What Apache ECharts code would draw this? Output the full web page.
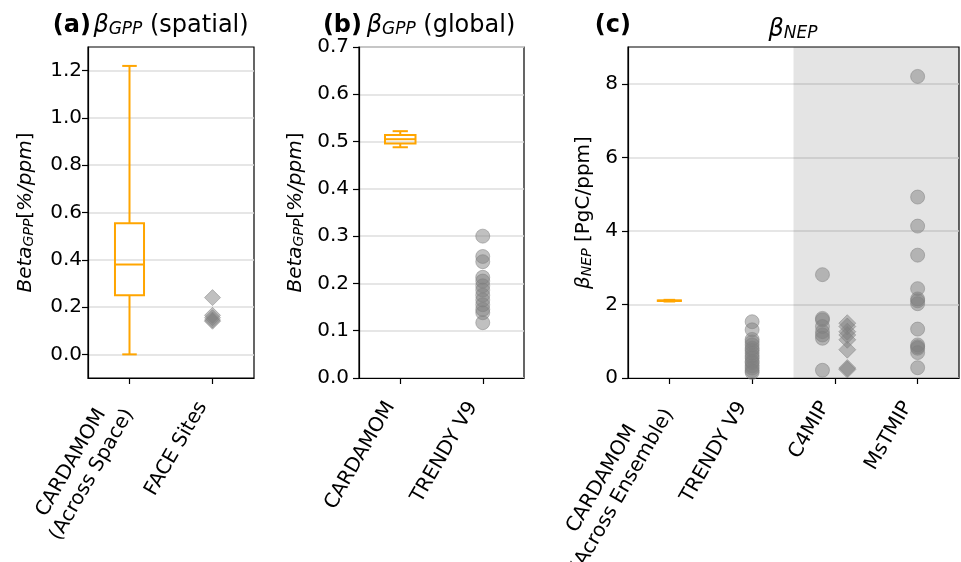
<!DOCTYPE html>
<html>
<head>
<meta charset="utf-8">
<script src="https://cdn.jsdelivr.net/npm/echarts@6/dist/echarts.min.js"></script>
<style>html,body{margin:0;padding:0;background:#fff}#c{width:961px;height:562px}</style>
</head>
<body>
<div id="c"></div>
<script>
// ---------- data ----------
const panelA_cats = ['CARDAMOM\n(Across Space)', 'FACE Sites'];
const panelA_yTicks = [0.0, 0.2, 0.4, 0.6, 0.8, 1.0, 1.2];
const cardamomSpatialBox = [0.0, 0.25, 0.38, 0.555, 1.22]; // low whisker, q1, median, q3, high whisker
const faceSites = [0.24, 0.165, 0.155, 0.145, 0.14];

const panelB_cats = ['CARDAMOM', 'TRENDY V9'];
const panelB_yTicks = [0.0, 0.1, 0.2, 0.3, 0.4, 0.5, 0.6, 0.7];
const cardamomGlobalBox = [0.488, 0.496, 0.505, 0.514, 0.522];
const trendyGPP = [0.30, 0.257, 0.246, 0.213, 0.205, 0.195, 0.186, 0.175, 0.165, 0.155, 0.145, 0.138, 0.117];

const panelC_cats = ['CARDAMOM\n(Across Ensemble)', 'TRENDY V9', 'C4MIP', 'MsTMIP'];
const panelC_yTicks = [0, 2, 4, 6, 8];
const cardamomNEPBox = [2.08, 2.095, 2.1, 2.11, 2.125];
const trendyNEP = [1.53, 1.31, 1.05, 0.98, 0.9, 0.81, 0.75, 0.68, 0.6, 0.54, 0.45, 0.41, 0.33, 0.27, 0.2, 0.15];
const c4mipCircles = [2.81, 1.62, 1.58, 1.40, 1.26, 1.17, 1.08, 0.21];
const c4mipDiamonds = [1.49, 1.40, 1.26, 1.17, 1.04, 0.77, 0.27, 0.23];
const mstmip = [8.2, 4.92, 4.13, 3.34, 2.43, 2.15, 2.1, 2.02, 1.33, 0.9, 0.85, 0.81, 0.69, 0.28];

// ---------- styling helpers ----------
const FONT = '"DejaVu Sans", sans-serif';
const ORANGE = '#FFA500';
const PT_FILL = 'rgba(128,128,128,0.62)';
const TICK_FS = 20;

const mctx = document.createElement('canvas').getContext('2d');
mctx.font = TICK_FS + 'px "DejaVu Sans"';
function labelFor(name) {
  if (name.indexOf('\n') < 0) return name;
  return name.split('\n').map(l => '{c|' + l + '}').join('\n');
}
function richFor(cats) {
  let w = 0;
  cats.forEach(n => n.split('\n').forEach(l => { w = Math.max(w, mctx.measureText(l).width); }));
  return { c: { width: Math.ceil(w) + 2, align: 'center', fontSize: TICK_FS, color: '#000', fontFamily: FONT, lineHeight: 24 } };
}

function xAxisFor(gridIndex, cats) {
  const pos = cats.map((_, i) => i + 1);
  return {
    type: 'value', gridIndex, min: 0.5, max: cats.length + 0.5,
    axisLine: { show: true, onZero: false, lineStyle: { color: '#000', width: 1.2 } },
    axisTick: { show: true, customValues: pos, length: 6, lineStyle: { color: '#000', width: 1.2 } },
    axisLabel: {
      customValues: pos, rotate: 60, margin: 8, fontSize: TICK_FS, color: '#000', fontFamily: FONT, lineHeight: 24,
      padding: [0, 20, 0, 0], hideOverlap: false,
      formatter: v => labelFor(cats[Math.round(v) - 1]), rich: richFor(cats)
    },
    splitLine: { show: false }
  };
}
function yAxisFor(gridIndex, min, max, ticks, dec, name, nameGap, rich, labelMargin) {
  return {
    type: 'value', gridIndex, min, max,
    axisLine: { show: true, lineStyle: { color: '#000', width: 1.2 } },
    axisTick: { show: true, customValues: ticks, length: 6, lineStyle: { color: '#000', width: 1.2 } },
    axisLabel: { customValues: ticks, fontSize: TICK_FS, color: '#000', fontFamily: FONT, margin: labelMargin, formatter: v => v.toFixed(dec) },
    splitLine: { show: true, lineStyle: { color: '#dedede', width: 1.5 } },
    name, nameLocation: 'middle', nameGap, nameRotate: 90,
    nameTextStyle: { rich }
  };
}
const richBeta = {
  i: { fontStyle: 'italic', fontSize: 20, fontFamily: FONT, color: '#000' },
  s: { fontStyle: 'italic', fontSize: 14, fontFamily: FONT, color: '#000', verticalAlign: 'bottom', lineHeight: 14 },
  n: { fontSize: 20, fontFamily: FONT, color: '#000' }
};

function boxSeries(xi, yi, pos, box, widthUnits) {
  return {
    type: 'custom', xAxisIndex: xi, yAxisIndex: yi, z: 5,
    data: [[pos].concat(box)],
    encode: { x: 0, y: [1, 2, 3, 4, 5] },
    renderItem: function (params, api) {
      const x = api.value(0);
      const lo = api.coord([x, api.value(1)]);
      const q1 = api.coord([x, api.value(2)]);
      const md = api.coord([x, api.value(3)]);
      const q3 = api.coord([x, api.value(4)]);
      const hi = api.coord([x, api.value(5)]);
      const hw = api.size([widthUnits, 0])[0] / 2;
      const cw = hw / 2;
      const cx = lo[0];
      const st = { stroke: ORANGE, lineWidth: 2, fill: null };
      return {
        type: 'group', children: [
          { type: 'rect', shape: { x: cx - hw, y: q3[1], width: 2 * hw, height: q1[1] - q3[1] }, style: { stroke: ORANGE, lineWidth: 2, fill: 'rgba(0,0,0,0)' } },
          { type: 'line', shape: { x1: cx - hw, y1: md[1], x2: cx + hw, y2: md[1] }, style: st },
          { type: 'line', shape: { x1: cx, y1: q1[1], x2: cx, y2: lo[1] }, style: st },
          { type: 'line', shape: { x1: cx, y1: q3[1], x2: cx, y2: hi[1] }, style: st },
          { type: 'line', shape: { x1: cx - cw, y1: lo[1], x2: cx + cw, y2: lo[1] }, style: st },
          { type: 'line', shape: { x1: cx - cw, y1: hi[1], x2: cx + cw, y2: hi[1] }, style: st }
        ]
      };
    }
  };
}
function pts(xi, yi, x, vals, symbol, size) {
  return {
    type: 'scatter', xAxisIndex: xi, yAxisIndex: yi, z: 4,
    symbol, symbolSize: size,
    data: vals.map(v => [x, v]),
    itemStyle: { color: PT_FILL, borderColor: 'rgba(128,128,128,0.62)', borderWidth: 1 },
    emphasis: { disabled: true }
  };
}

const grids = [
  { left: 88, top: 47, width: 166, height: 331 },
  { left: 359, top: 47, width: 165, height: 331 },
  { left: 628, top: 47, width: 331, height: 331 }
];
grids.forEach(g => {
  g.show = true; g.borderColor = '#000'; g.borderWidth = 1.2; g.backgroundColor = 'transparent';
  g.containLabel = false; g.outerBoundsMode = 'none';
});

const titleRich = {
  g: { fontStyle: 'italic', fontWeight: 'normal', fontSize: 24, fontFamily: FONT, color: '#000' },
  s: { fontStyle: 'italic', fontWeight: 'normal', fontSize: 17, fontFamily: FONT, color: '#000', verticalAlign: 'bottom', lineHeight: 17 },
  n: { fontWeight: 'normal', fontSize: 24, fontFamily: FONT, color: '#000' },
  b: { fontSize: 24, fontWeight: 'bold', fontFamily: FONT, color: '#000' }
};
function ttl(text, left, align, top) {
  return { text, left, top, textAlign: align, padding: 0, textStyle: { rich: titleRich, fontSize: 24, fontWeight: 'normal' } };
}

const shadeStart = panelC_cats.length - 1.5;
const shadeEnd = panelC_cats.length + 0.5;

const option = {
  animation: false,
  textStyle: { fontFamily: FONT },
  title: [
    ttl('{b|(a)}', 91, 'right', 14),
    ttl('{g|β}{s|GPP}{n| (spatial)}', 171, 'center', 14),
    ttl('{b|(b)}', 362, 'right', 14),
    ttl('{g|β}{s|GPP}{n| (global)}', 441, 'center', 14),
    ttl('{b|(c)}', 631, 'right', 14),
    ttl('{g|β}{s|NEP}', 793, 'center', 18)
  ],
  grid: grids,
  xAxis: [xAxisFor(0, panelA_cats), xAxisFor(1, panelB_cats), xAxisFor(2, panelC_cats)],
  yAxis: [
    yAxisFor(0, -0.1, 1.3, panelA_yTicks, 1, '{i|Beta}{s|GPP}{n|[}{i|%/ppm}{n|]}', 52, richBeta, 6),
    yAxisFor(1, 0, 0.7, panelB_yTicks, 1, '{i|Beta}{s|GPP}{n|[}{i|%/ppm}{n|]}', 53, richBeta, 10),
    yAxisFor(2, 0, 9, panelC_yTicks, 0, '{i|β}{s|NEP}{n| [PgC/ppm]}', 34, richBeta, 10)
  ],
  series: [
    {
      type: 'scatter', xAxisIndex: 2, yAxisIndex: 2, data: [], z: 1,
      markArea: { silent: true, itemStyle: { color: 'rgba(0,0,0,0.105)' }, data: [[{ xAxis: shadeStart, yAxis: 0 }, { xAxis: shadeEnd, yAxis: 9 }]] }
    },
    boxSeries(0, 0, 1, cardamomSpatialBox, 0.35),
    pts(0, 0, 2, faceSites, 'diamond', 16),
    boxSeries(1, 1, 1, cardamomGlobalBox, 0.37),
    pts(1, 1, 2, trendyGPP, 'circle', 14),
    boxSeries(2, 2, 1, cardamomNEPBox, 0.28),
    pts(2, 2, 2, trendyNEP, 'circle', 14),
    pts(2, 2, 2.85, c4mipCircles, 'circle', 14),
    pts(2, 2, 3.15, c4mipDiamonds, 'diamond', 17),
    pts(2, 2, 4, mstmip, 'circle', 14)
  ]
};
const chart = echarts.init(document.getElementById('c'), null, { renderer: 'canvas' });
chart.setOption(option);
</script>
</body>
</html>
